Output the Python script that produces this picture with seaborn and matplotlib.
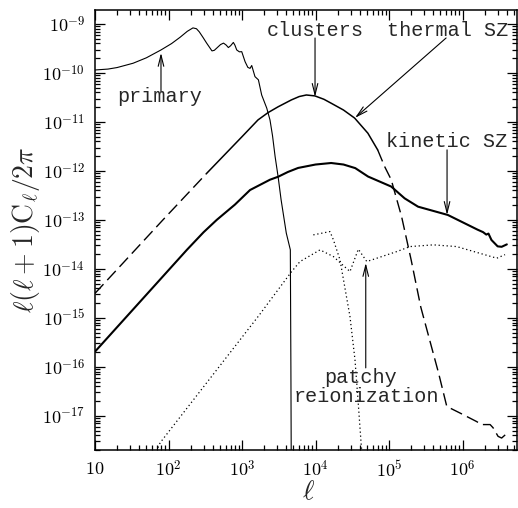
import numpy as np
import pandas as pd
import matplotlib
matplotlib.use("Agg")
import matplotlib.pyplot as plt
import seaborn as sns
from matplotlib.ticker import FixedLocator, NullFormatter

# ---------------- data ----------------
primary_l = [10, 15, 20, 33, 50, 79, 110, 144, 180, 215, 240, 262, 295, 330, 390, 420,
             455, 510, 560, 610, 652, 700, 762, 800, 847, 920, 991, 1100, 1200, 1285,
             1355, 1500, 1670, 1850, 2170, 2400, 2600, 2820, 3100, 3400, 4000, 4540,
             4620, 4700]
primary_c = [1.15e-10, 1.2e-10, 1.29e-10, 1.58e-10, 2.04e-10, 2.95e-10, 3.98e-10,
             5.37e-10, 7.08e-10, 8.32e-10, 8.0e-10, 6.92e-10, 5.3e-10, 4.07e-10, 2.82e-10,
             2.9e-10, 3.24e-10, 3.8e-10, 4.07e-10, 3.7e-10, 3.3e-10, 3.6e-10, 4.2e-10,
             3.7e-10, 2.95e-10, 2.7e-10, 2.72e-10, 1.70e-10, 1.3e-10, 1.24e-10,
             1.42e-10, 8.41e-11, 7.24e-11, 3.55e-11, 1.91e-11, 1.10e-11, 5.2e-12,
             1.95e-12, 7.5e-13, 2.57e-13, 5.37e-14, 2.45e-14, 1e-16, 1e-19]

tsz_low_l = [10, 84, 330]
tsz_low_c = [3.16e-15, 1.0e-13, 8.9e-13]
tsz_mid_l = [330, 1000, 1650, 2260, 3100, 4700, 6000, 7500, 9800, 13000, 16400, 24000,
             34000, 51500, 70000]
tsz_mid_c = [8.9e-13, 5.0e-12, 1.10e-11, 1.55e-11, 2.04e-11, 2.82e-11, 3.3e-11, 3.55e-11,
             3.4e-11, 2.9e-11, 2.40e-11, 1.75e-11, 1.20e-11, 5.89e-12, 2.69e-12]
tsz_high_l = [70000, 87000, 1.07e5, 1.48e5, 2.0e5, 2.7e5, 4.7e5, 6.1e5, 9.2e5,
              1.56e6, 1.8e6, 2.37e6, 2.6e6, 3.04e6, 3.4e6, 3.8e6]
tsz_high_c = [2.69e-12, 1.23e-12, 6.61e-13, 1.17e-13, 1.51e-14, 1.66e-15, 7.59e-17,
              1.55e-17, 1.14e-17, 7.59e-18, 6.61e-18, 6.61e-18, 5.69e-18, 3.80e-18,
              3.51e-18, 4.07e-18]

ksz_l = [10, 178, 300, 453, 800, 1285, 2400, 3100, 4200, 5800, 10000, 16300, 24000, 34700,
         51800, 1.07e5, 1.63e5, 2.48e5, 6.3e5, 1.6e6, 1.9e6, 2.1e6, 2.25e6, 2.47e6,
         3.0e6, 3.4e6, 4.0e6]
ksz_c = [2.04e-16, 2.45e-14, 5.6e-14, 1.0e-13, 2.05e-13, 4.07e-13, 6.61e-13, 7.6e-13,
         9.5e-13, 1.15e-12, 1.35e-12, 1.45e-12, 1.35e-12, 1.14e-12, 7.67e-13, 4.79e-13,
         2.75e-13, 1.86e-13, 1.26e-13, 6.31e-14, 5.62e-14, 5.01e-14, 5.25e-14, 3.89e-14,
         2.88e-14, 2.82e-14, 3.16e-14]

patchy_a_l = [65, 77, 1700, 4700, 6150, 11500, 17500, 29400, 38200, 49800, 1.27e5,
              1.93e5, 4.0e5, 8.3e5, 2.92e6, 3.78e6]
patchy_a_c = [1.58e-18, 2.82e-18, 1.12e-15, 8.71e-15, 1.41e-14, 2.44e-14, 1.78e-14,
              8.81e-15, 2.52e-14, 1.41e-14, 2.25e-14, 2.85e-14, 3.09e-14, 2.85e-14,
              1.65e-14, 1.95e-14]
patchy_b_l = [9330, 15700, 17500, 21500, 29400, 34400, 37800, 41600, 43000]
patchy_b_c = [4.94e-14, 5.77e-14, 3.91e-14, 1.53e-14, 1.06e-15, 1.39e-16, 2.12e-17,
              2.82e-18, 1.58e-18]

x_ticks = [10, 1e2, 1e3, 1e4, 1e5, 1e6]
x_labels = ["$10$", "$10^2$", "$10^3$", "$10^4$", "$10^5$", "$10^6$"]
y_ticks = [1e-17, 1e-16, 1e-15, 1e-14, 1e-13, 1e-12, 1e-11, 1e-10, 1e-9]
y_labels = ["$10^{-17}$", "$10^{-16}$", "$10^{-15}$", "$10^{-14}$", "$10^{-13}$",
            "$10^{-12}$", "$10^{-11}$", "$10^{-10}$", "$10^{-9}$"]

# ---------------- style ----------------
sns.set_style("ticks")
plt.rcParams["font.family"] = ["DejaVu Serif"]
plt.rcParams["mathtext.fontset"] = "cm"

fig = plt.figure(figsize=(5.18, 5.08), dpi=100)
ax = fig.add_axes([95 / 518, 1 - 450 / 508, 422 / 518, 440 / 508])
ax.set_xscale("log")
ax.set_yscale("log")

def draw(lv, cv, **kw):
    df = pd.DataFrame({"ell": lv, "cl": cv})
    sns.lineplot(data=df, x="ell", y="cl", ax=ax, estimator=None, sort=False,
                 color="black", **kw)

draw(primary_l, primary_c, linewidth=0.8)
draw(tsz_low_l, tsz_low_c, linewidth=1.0, linestyle=(0, (9, 4)))
draw(tsz_mid_l, tsz_mid_c, linewidth=1.1)
draw(tsz_high_l, tsz_high_c, linewidth=1.0, linestyle=(0, (9, 4)))
draw(ksz_l, ksz_c, linewidth=1.5)
draw(patchy_a_l, patchy_a_c, linewidth=0.9, linestyle=(0, (1, 2.2)))
draw(patchy_b_l, patchy_b_c, linewidth=0.9, linestyle=(0, (1, 2.2)))

ax.set_xlim(10, 5.5e6)
ax.set_ylim(2.0e-18, 1.93e-9)

ax.xaxis.set_major_locator(FixedLocator(x_ticks))
ax.set_xticklabels(x_labels)
ax.yaxis.set_major_locator(FixedLocator(y_ticks))
ax.set_yticklabels(y_labels)
minor_x = [m * 10.0 ** e for e in range(1, 7) for m in range(2, 10)]
minor_y = [m * 10.0 ** e for e in range(-18, -8) for m in range(2, 10)]
ax.xaxis.set_minor_locator(FixedLocator(minor_x))
ax.yaxis.set_minor_locator(FixedLocator(minor_y))
ax.xaxis.set_minor_formatter(NullFormatter())
ax.yaxis.set_minor_formatter(NullFormatter())
ax.tick_params(which="both", direction="in", top=True, right=True, width=0.9,
               colors="black", labelsize=13)
ax.tick_params(which="major", length=7.5)
ax.tick_params(which="minor", length=3.8)
ax.tick_params(axis="y", pad=7)
ax.tick_params(axis="x", pad=7)
for s in ax.spines.values():
    s.set_linewidth(1.1)
    s.set_color("black")

ax.set_xlabel(r"$\ell$", fontsize=20)
ax.xaxis.set_label_coords(0.505, -0.125)
ax.xaxis.label.set_va("bottom")
ax.set_ylabel(r"$\ell(\ell+1)\mathrm{C}_\ell/2\pi$", fontsize=20)
ax.yaxis.set_label_coords(-0.165, 0.5)
ax.yaxis.label.set_va("center")

arrow = dict(arrowstyle="->,head_length=0.8,head_width=0.2", color="black", lw=0.8,
             shrinkA=0, shrinkB=0)
tf = dict(fontsize=14.5, family="Liberation Mono", ha="center", va="baseline")
ax.annotate("", xy=(79, 2.57e-10), xytext=(79, 4.07e-11), arrowprops=arrow)
ax.text(76.6, 2.5e-11, "primary", **tf)

ax.annotate("", xy=(9840, 3.24e-11), xytext=(9840, 5.18e-10), arrowprops=arrow)
ax.text(9840, 5.56e-10, "clusters", **tf)
ax.annotate("", xy=(3.44e4, 1.21e-11), xytext=(5.97e5, 5.18e-10), arrowprops=arrow)
ax.text(6.3e5, 5.56e-10, "thermal SZ", **tf)

ax.annotate("", xy=(6.15e5, 1.26e-13), xytext=(6.15e5, 2.69e-12), arrowprops=arrow)
ax.text(6.15e5, 3.13e-12, "kinetic SZ", **tf)

ax.annotate("", xy=(4.82e4, 1.32e-14), xytext=(4.82e4, 9.5e-17), arrowprops=arrow)
ax.text(4.16e4, 4.71e-17, "patchy", **tf)
ax.text(4.87e4, 1.93e-17, "reionization", **tf)

fig.savefig("out.png", dpi=100)
